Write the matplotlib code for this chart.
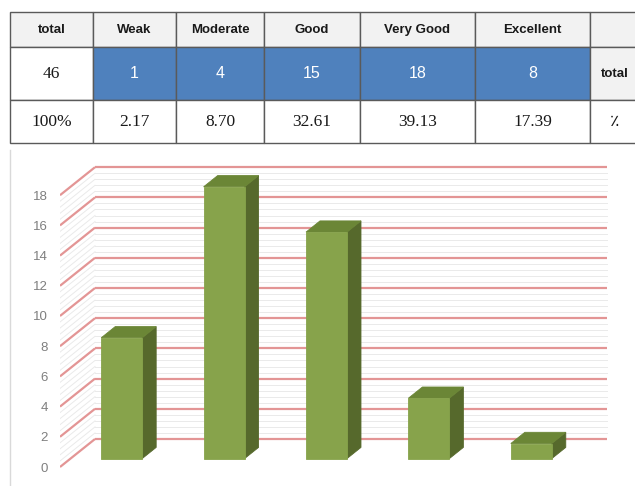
import numpy as np
import matplotlib
matplotlib.use("Agg")
import matplotlib.pyplot as plt
from matplotlib.patches import Polygon
from matplotlib.lines import Line2D

# ---- data ----
categories = ["Weak", "Moderate", "Good", "Very Good", "Excellent"]
counts = [1, 4, 15, 18, 8]
percents = [2.17, 8.70, 32.61, 39.13, 17.39]
total_count = 46
total_label = "total"
percent_sign = "\u066a"
y_ticks = list(range(0, 20, 2))

W, H = 635, 486
fig = plt.figure(figsize=(W / 100, H / 100), dpi=100)


def fx(px):
    return px / W


def fy(py):
    return 1 - py / H


# ---- summary table ----
col_w = [83, 83, 88, 96, 115, 115, 49]
row_h = [35, 53, 43]
ax_t = fig.add_axes([fx(10), fy(143), sum(col_w) / W, (143 - 12) / H])
ax_t.axis("off")

header = [total_label] + categories + [""]
row_counts = [str(total_count)] + [str(c) for c in counts] + [total_label]
row_pct = ["100%"] + [f"{p:.2f}" for p in percents] + [percent_sign]

tbl = ax_t.table(cellText=[header, row_counts, row_pct],
                 colWidths=[w / sum(col_w) for w in col_w],
                 cellLoc="center", bbox=[0, 0, 1, 1])
tbl.auto_set_font_size(False)

blue = "#4f81bd"
head_bg = "#f2f2f2"
for (r, c), cell in tbl.get_celld().items():
    cell.set_height(row_h[r])
    cell.set_edgecolor("#5a5a5a")
    cell.set_linewidth(1.0)
    txt = cell.get_text()
    if r == 0:
        cell.set_facecolor(head_bg)
        txt.set_fontfamily("Liberation Sans")
        txt.set_fontweight("bold")
        txt.set_fontsize(9.5)
        txt.set_color("#1a1a1a")
    elif r == 1:
        if 1 <= c <= len(categories):
            cell.set_facecolor(blue)
            txt.set_fontfamily("Liberation Sans")
            txt.set_fontsize(11.5)
            txt.set_color("white")
        elif c == 0:
            cell.set_facecolor("white")
            txt.set_fontfamily("Liberation Serif")
            txt.set_fontsize(12.5)
            txt.set_color("#1a1a1a")
        else:
            cell.set_facecolor(head_bg)
            txt.set_fontfamily("Liberation Sans")
            txt.set_fontweight("bold")
            txt.set_fontsize(9.5)
            txt.set_color("#1a1a1a")
    else:
        cell.set_facecolor("white")
        txt.set_fontfamily(["Liberation Serif", "DejaVu Sans"])
        txt.set_fontsize(12.5)
        txt.set_color("#1a1a1a")

# ---- 3D-style column chart ----
px_x = 102.4   # pixels per category slot
px_y = 15.1    # pixels per value unit
front_x0, front_y0 = 60, 467
left_px, right_px, top_px, bot_px = 60, 620, 150, 480

ax = fig.add_axes([fx(left_px), fy(bot_px),
                   (right_px - left_px) / W, (bot_px - top_px) / H])
ax.set_xlim((left_px - front_x0) / px_x, (right_px - front_x0) / px_x)
ax.set_ylim((front_y0 - bot_px) / px_y, (front_y0 - top_px) / px_y)
for s in ax.spines.values():
    s.set_visible(False)
ax.set_xticks([])
ax.set_yticks(y_ticks)
ax.set_yticklabels([str(v) for v in y_ticks])
ax.tick_params(axis="y", length=0, pad=8.6, labelsize=9.5,
               labelcolor="#7f7f7f")
for lab in ax.get_yticklabels():
    lab.set_fontfamily("Liberation Sans")

DX = 35 / px_x   # depth offset in category units
DY = 28 / px_y   # depth offset in value units
n = len(categories)
vmax = y_ticks[-1]

# faint minor grid on back and side walls
for v in np.arange(0, vmax, 0.4):
    if np.isclose(v % 2, 0) or np.isclose(v % 2, 2):
        continue
    ax.plot([DX, n + DX], [v + DY, v + DY], color="#eaeaea", lw=0.7, zorder=1)
    ax.plot([0, DX], [v, v + DY], color="#eaeaea", lw=0.7, zorder=1)

# major grid
red = "#e39595"
for v in y_ticks:
    ax.plot([DX, n + DX], [v + DY, v + DY], color=red, lw=1.6, zorder=2,
            solid_capstyle="butt")
    ax.plot([0, DX], [v, v + DY], color=red, lw=1.6, zorder=2,
            solid_capstyle="butt")

# columns, drawn in reversed category order
front_c = "#87a34b"
top_c = "#6b8636"
side_c = "#56692c"
d0, d1 = 0.3, 0.7
hw = 0.2
for i, val in enumerate(counts[::-1]):
    c = i + 0.5
    xl, xr = c - hw, c + hw
    front = [(xl + d0 * DX, d0 * DY), (xr + d0 * DX, d0 * DY),
             (xr + d0 * DX, val + d0 * DY), (xl + d0 * DX, val + d0 * DY)]
    top = [(xl + d0 * DX, val + d0 * DY), (xr + d0 * DX, val + d0 * DY),
           (xr + d1 * DX, val + d1 * DY), (xl + d1 * DX, val + d1 * DY)]
    side = [(xr + d0 * DX, d0 * DY), (xr + d1 * DX, d1 * DY),
            (xr + d1 * DX, val + d1 * DY), (xr + d0 * DX, val + d0 * DY)]
    for poly, col in ((side, side_c), (top, top_c), (front, front_c)):
        ax.add_patch(Polygon(poly, closed=True, facecolor=col,
                             edgecolor=col, lw=0.6, zorder=5))

# chart area border on the left
fig.add_artist(Line2D([fx(10), fx(10)], [fy(150), fy(486)],
                      color="#d9d9d9", lw=1.0))

fig.savefig("out.png", dpi=100)
